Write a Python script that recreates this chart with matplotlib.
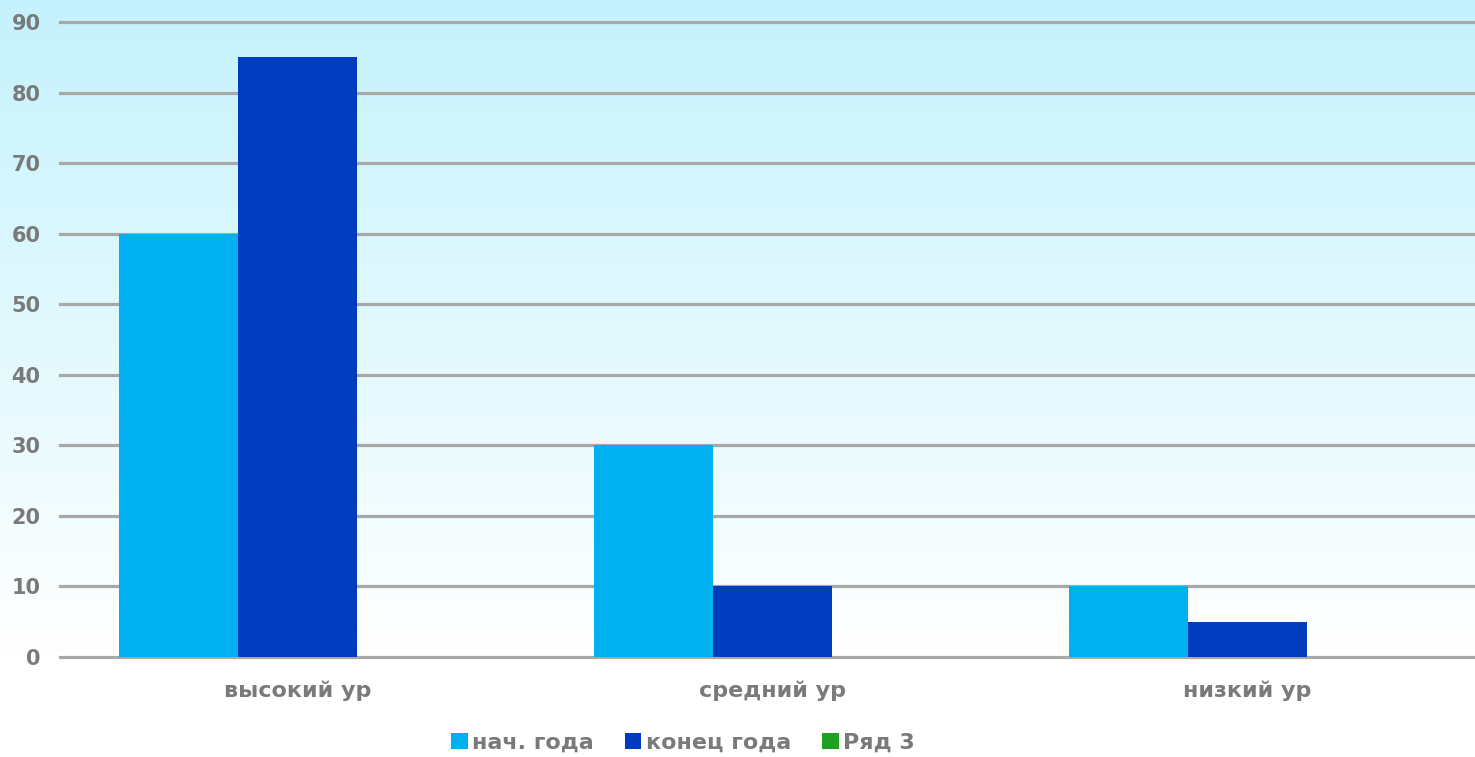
import matplotlib
matplotlib.use("Agg")
import matplotlib.pyplot as plt
import numpy as np
from matplotlib.patches import Patch

categories = ["высокий ур", "средний ур", "низкий ур"]
series_names = ["нач. года", "конец года", "Ряд 3"]
start_year = [60, 30, 10]
end_year = [85, 10, 5]
row3 = [0, 0, 0]
colors = ["#00B0F0", "#003DBE", "#1FA01F"]
yticks = [0, 10, 20, 30, 40, 50, 60, 70, 80, 90]

W, H = 1475, 757
fig = plt.figure(figsize=(W / 100, H / 100), dpi=100)

# background gradient
bg = fig.add_axes([0, 0, 1, 1], zorder=-10)
bg.set_axis_off()
t = np.linspace(0, 1, 400)
top = np.array([0.77, 0.95, 0.99])
bot = np.array([1.0, 1.0, 1.0])
frac = np.clip(t / 0.86, 0, 1)[:, None]
grad = top * (1 - frac) + bot * frac
grad = np.repeat(grad[:, None, :], 2, axis=1)
bg.imshow(grad, aspect="auto", extent=[0, 1, 0, 1], origin="upper")
bg.set_xlim(0, 1)
bg.set_ylim(0, 1)

ax = fig.add_axes([60 / W, 100 / H, 1425 / W, 635 / H])
ax.patch.set_alpha(0)

x = np.arange(len(categories))
bw = 0.25
data = [start_year, end_year, row3]
for i, (vals, c, name) in enumerate(zip(data, colors, series_names)):
    ax.bar(x + (i - 1) * bw, vals, width=bw, color=c, label=name, zorder=3)

ax.set_xlim(-0.5, 2.5)
ax.set_ylim(0, 90)
ax.set_yticks(yticks)
ax.set_xticks(x)
ax.set_xticklabels(categories)
for yv in yticks:
    ax.axhline(yv, color="#A8A8A8", linewidth=2.3, zorder=1, clip_on=False)
for s in ax.spines.values():
    s.set_visible(False)
ax.tick_params(axis="y", length=0, labelsize=15, colors="#7A7A7A", pad=14)
ax.tick_params(axis="x", length=0, labelsize=16, colors="#7A7A7A", pad=17)
for lab in ax.get_xticklabels() + ax.get_yticklabels():
    lab.set_fontweight("bold")
    lab.set_family("DejaVu Sans")

handles = [Patch(facecolor=c) for c in colors]
leg = fig.legend(handles, series_names, loc="center", bbox_to_anchor=(683 / W, 1 - 743 / H),
                 ncol=3, frameon=False, handlelength=0.75, handleheight=0.75,
                 handletextpad=0.2, columnspacing=1.4,
                 prop={"size": 16, "weight": "bold", "family": "DejaVu Sans"})
for txt in leg.get_texts():
    txt.set_color("#7A7A7A")

fig.savefig("out.png", dpi=100)
